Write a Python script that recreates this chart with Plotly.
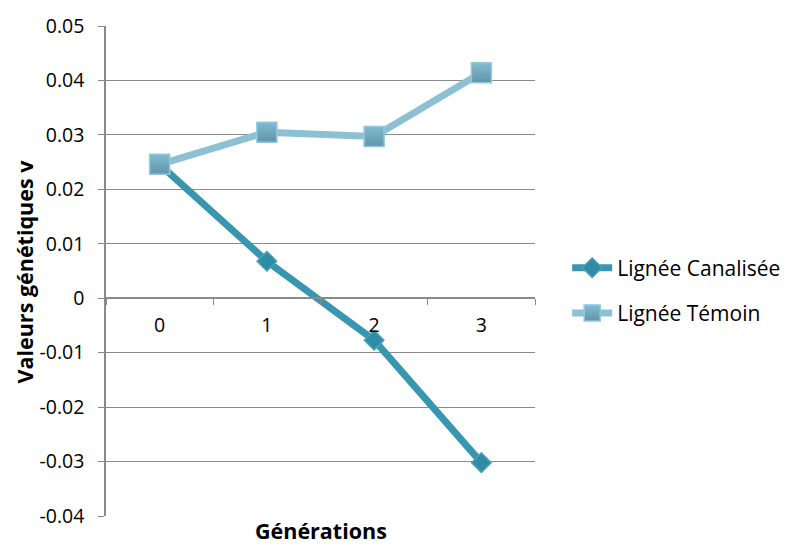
import plotly.graph_objects as go

generations = ["0", "1", "2", "3"]
canalisee = [0.0246, 0.0068, -0.0077, -0.0302]
temoin = [0.0246, 0.0305, 0.0297, 0.0414]

y_ticks = [-0.04, -0.03, -0.02, -0.01, 0, 0.01, 0.02, 0.03, 0.04, 0.05]
y_tick_text = ["-0.04", "-0.03", "-0.02", "-0.01", "0", "0.01", "0.02", "0.03", "0.04", "0.05"]

y_min, y_max = -0.04, 0.05
font_family = "Open Sans, Liberation Sans, sans-serif"
grid_color = "#8a8a8a"

fig = go.Figure()

fig.add_trace(go.Scatter(
    x=generations, y=canalisee, name="Lignée Canalisée",
    legendgroup="a", mode="lines+markers",
    line=dict(color="rgb(57,150,176)", width=7),
    marker=dict(symbol="diamond", size=15, color="rgb(48,140,166)",
                line=dict(color="rgb(70,160,185)", width=1.5)),
))
fig.add_trace(go.Scatter(
    x=generations, y=temoin, name="Lignée Témoin",
    legendgroup="b", mode="lines+markers",
    line=dict(color="rgb(140,192,211)", width=7),
    marker=dict(symbol="square", size=20, color="rgb(128,188,210)",
                gradient=dict(type="vertical", color="rgb(98,148,170)"),
                line=dict(color="rgb(145,200,220)", width=1.5)),
))

fig.update_layout(
    width=798, height=548,
    margin=dict(l=106, r=263, t=22, b=32),
    paper_bgcolor="white", plot_bgcolor="white",
    font=dict(family=font_family, size=18, color="black"),
    showlegend=True,
    legend=dict(x=1.075, y=0.46, xanchor="left", yanchor="middle",
                font=dict(size=21), traceorder="grouped", tracegroupgap=15,
                itemwidth=40, bgcolor="rgba(0,0,0,0)"),
    xaxis=dict(
        type="category", anchor="free", position=(0 - y_min) / (y_max - y_min),
        showline=True, linecolor=grid_color, linewidth=1.5,
        ticks="outside", tickson="boundaries", ticklen=6, tickcolor=grid_color,
        ticklabelstandoff=10, tickfont=dict(size=19.5),
        showgrid=False, zeroline=False,
        range=[-0.5, 3.5],
    ),
    yaxis=dict(
        range=[y_min, y_max], tickvals=y_ticks, ticktext=y_tick_text,
        showline=True, linecolor=grid_color, linewidth=1.5,
        ticks="outside", ticklen=6, tickcolor=grid_color,
        ticklabelstandoff=10, tickfont=dict(size=19.5),
        showgrid=True, gridcolor=grid_color, gridwidth=1,
        zeroline=False,
    ),
)

fig.add_annotation(
    text="<b>Générations</b>", xref="paper", yref="paper",
    x=0.5, y=-0.063, xanchor="center", yanchor="bottom",
    showarrow=False, font=dict(size=21.5),
)
fig.add_annotation(
    text="<b>Valeurs génétiques v</b>", xref="paper", yref="paper",
    x=-0.19, y=0.5, xanchor="center", yanchor="middle", textangle=-90,
    showarrow=False, font=dict(size=21.5),
)

fig.write_html("out.html")
